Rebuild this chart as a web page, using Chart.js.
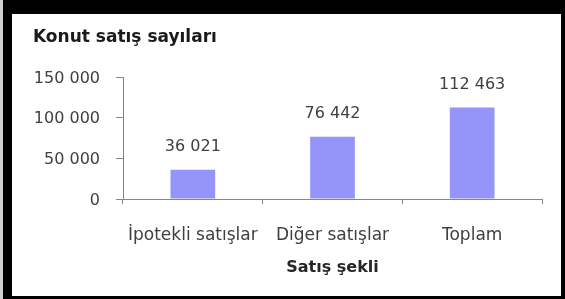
<!DOCTYPE html>
<html>
<head>
<meta charset="utf-8">
<script src="https://cdn.jsdelivr.net/npm/chart.js@4"></script>
<style>
  html, body { margin: 0; padding: 0; background: #fff; }
  #wrap { width: 565px; height: 299px; }
</style>
</head>
<body>
<div id="wrap"><canvas id="chart" width="565" height="299"></canvas></div>
<script>
const CATEGORIES = ['İpotekli satışlar', 'Diğer satışlar', 'Toplam'];
const SALES      = [36021, 76442, 112463];
const Y_TICKS    = [0, 50000, 100000, 150000];

const CHART_TITLE = 'Konut satış sayıları';
const X_TITLE     = 'Satış şekli';

const FONT     = '"DejaVu Sans", sans-serif';
const TEXT_COL = '#404040';
const AXIS_COL = '#868686';
const BAR_COL  = '#9494FA';

const fmt = v => String(v).replace(/\B(?=(\d{3})+(?!\d))/g, ' ');

// black frame round the picture
const framePlugin = {
  id: 'frame',
  afterDraw(chart) {
    const { ctx, width, height } = chart;
    ctx.save();
    ctx.fillStyle = '#000';
    ctx.fillRect(0, 0, width, 14);
    ctx.fillRect(0, 0, 12, height);
    ctx.fillRect(width - 4, 0, 4, height);
    ctx.fillRect(0, height - 3, width, 3);
    ctx.fillStyle = '#d0d0d0';
    ctx.fillRect(0, 0, 3, height);
    ctx.restore();
  }
};

// value labels above each bar
const valueLabels = {
  id: 'valueLabels',
  afterDatasetsDraw(chart) {
    const { ctx } = chart;
    const meta = chart.getDatasetMeta(0);
    ctx.save();
    ctx.font = `16px ${FONT}`;
    ctx.fillStyle = TEXT_COL;
    ctx.textAlign = 'center';
    ctx.textBaseline = 'middle';
    meta.data.forEach((bar, i) => {
      ctx.fillText(fmt(SALES[i]), bar.x, bar.y - 23);
    });
    ctx.restore();
  }
};

new Chart(document.getElementById('chart'), {
  type: 'bar',
  data: {
    labels: CATEGORIES,
    datasets: [{
      data: SALES,
      backgroundColor: BAR_COL,
      borderWidth: 0,
      categoryPercentage: 1,
      barPercentage: 0.32,
    }],
  },
  options: {
    responsive: false,
    animation: false,
    layout: { padding: { top: 13, left: 33, right: 23, bottom: 4 } },
    plugins: {
      legend: { display: false },
      tooltip: { enabled: false },
      title: {
        display: true,
        text: CHART_TITLE,
        align: 'start',
        color: '#1a1a1a',
        font: { family: FONT, size: 17, weight: 'bold' },
        padding: { top: 14, bottom: 29.6 },
      },
    },
    scales: {
      x: {
        grid: {
          offset: true,
          drawOnChartArea: false,
          drawTicks: true,
          tickLength: 5,
          color: AXIS_COL,
        },
        border: { color: AXIS_COL, width: 1 },
        ticks: {
          color: TEXT_COL,
          font: { family: FONT, size: 17 },
          padding: 21,
          maxRotation: 0,
          autoSkip: false,
        },
        title: {
          display: true,
          text: X_TITLE,
          color: '#262626',
          font: { family: FONT, size: 16, weight: 'bold' },
          padding: { top: 4, bottom: 18 },
        },
        afterFit(scale) { scale.height = 96; },
      },
      y: {
        min: 0,
        max: 150000,
        afterBuildTicks(scale) { scale.ticks = Y_TICKS.map(v => ({ value: v })); },
        grid: {
          drawOnChartArea: false,
          drawTicks: true,
          tickLength: 7,
          color: AXIS_COL,
        },
        border: { color: AXIS_COL, width: 1 },
        ticks: {
          color: TEXT_COL,
          font: { family: FONT, size: 16 },
          padding: 16,
          labelOffset: 1.5,
          callback: v => fmt(v),
        },
        afterFit(scale) { scale.width = 90; },
      },
    },
  },
  plugins: [valueLabels, framePlugin],
});
</script>
</body>
</html>
